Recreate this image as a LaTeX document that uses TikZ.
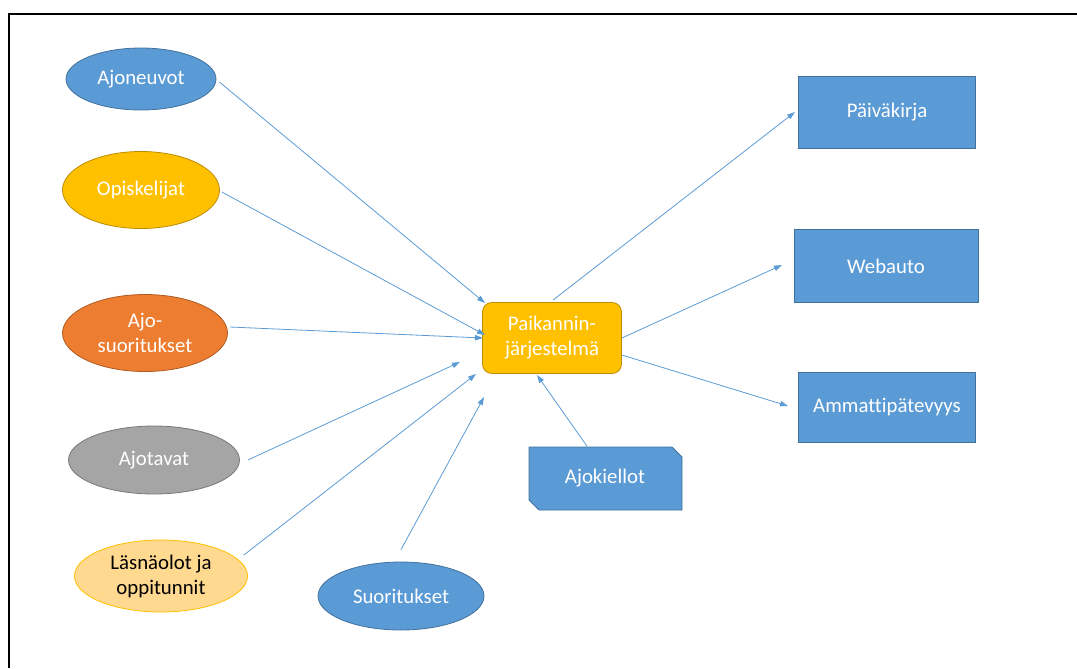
\documentclass[tikz,border=0pt]{standalone}
\usepackage{fontspec}
\setmainfont{Carlito}[Ligatures=NoCommon]
\usetikzlibrary{shapes.geometric,arrows.meta,calc}
\definecolor{bl}{HTML}{5B9BD5}
\definecolor{blb}{HTML}{41719C}
\definecolor{gd}{HTML}{FFC000}
\definecolor{gdb}{HTML}{BC8C00}
\definecolor{og}{HTML}{ED7D31}
\definecolor{ogb}{HTML}{AE5A21}
\definecolor{gy}{HTML}{A5A5A5}
\definecolor{gyb}{HTML}{787878}
\definecolor{lg}{HTML}{FFD98F}
\begin{document}
\begin{tikzpicture}[x=0.75pt,y=-0.75pt,
  lbl/.style={font=\fontsize{15.6}{18.8}\selectfont, text=white, align=center},
  ell/.style={ellipse, draw, line width=0.6pt, inner sep=0pt, lbl},
  box/.style={rectangle, fill=bl, draw=blb, line width=0.6pt, inner sep=0pt, lbl},
  conn/.style={draw=bl, line width=0.6pt, -{Triangle[length=6pt,width=4pt]}}]
\useasboundingbox (0,0) rectangle (1077,668);
\draw[line width=1.6pt] (9,668) -- (9,14) -- (1077,14);

\node[ell, fill=bl, draw=blb, minimum width=112.5pt, minimum height=46.5pt] (ajon) at (141,79) {Ajoneuvot};
\node[ell, fill=gd, draw=gdb, minimum width=117.75pt, minimum height=57.75pt] (opis) at (141,190) {Opiskelijat};
\node[ell, fill=og, draw=ogb, minimum width=123.75pt, minimum height=57.75pt] (ajos) at (145,333) {Ajo-\\suoritukset};
\node[ell, fill=gy, draw=gyb, minimum width=128.25pt, minimum height=51pt] (ajot) at (154,460) {Ajotavat};
\node[ell, fill=lg, draw=gd, text=black, minimum width=129.75pt, minimum height=54pt] (lasn) at (161,576) {Läsnäolot ja\\oppitunnit};
\node[ell, fill=bl, draw=blb, minimum width=124.5pt, minimum height=51pt] (suor) at (401,596) {Suoritukset};

\node[rectangle, rounded corners=7pt, fill=gd, draw=gdb, line width=0.6pt, lbl, minimum width=104.25pt, minimum height=53.25pt] (pk) at (552,338) {Paikannin-\\järjestelmä};

\fill[bl, draw=blb, line width=0.6pt] (529,447) -- (672,447) -- (682,457) -- (682,510) -- (539,510) -- (529,500) -- cycle;
\node[lbl, minimum width=114.75pt, minimum height=47.25pt, inner sep=0pt] (ak) at (605,478) {Ajokiellot};

\node[box, minimum width=132.75pt, minimum height=54pt] (pv) at (887,112) {Päiväkirja};
\node[box, minimum width=138pt, minimum height=54.75pt] (wa) at (886,266) {Webauto};
\node[box, minimum width=132.75pt, minimum height=52.5pt] (am) at (887,407) {Ammattipätevyys};

\coordinate (t1) at (485,303);
\coordinate (t2) at (485,335);
\coordinate (t3) at (483,338);
\coordinate (t4) at (460,362);
\coordinate (t5) at (476,374);
\coordinate (t6) at (484,397);
\coordinate (t7) at (537,375);
\coordinate (t8) at (795,112);
\coordinate (t9) at (782,265);
\coordinate (t10) at (788,406);

\draw[conn] ($(ajon.east)+(3,3)$) -- (t1);
\draw[conn] ($(opis.east)+(2,2)$) -- (t2);
\draw[conn] ($(ajos.east)+(2,-6)$) -- (t3);
\draw[conn] ($(ajot.east)+(8,0)$) -- (t4);
\draw[conn] ($(lasn.east)+(-4,-21)$) -- (t5);
\draw[conn] ($(suor.north)+(0,-12)$) -- (t6);
\draw[conn] ($(ak.north)+(-18,0)$) -- (t7);
\draw[conn] ($(pk.north)+(1,-2)$) -- (t8);
\draw[conn] (pk.east) -- (t9);
\draw[conn] ($(pk.east)+(0,17)$) -- (t10);
\end{tikzpicture}
\end{document}
